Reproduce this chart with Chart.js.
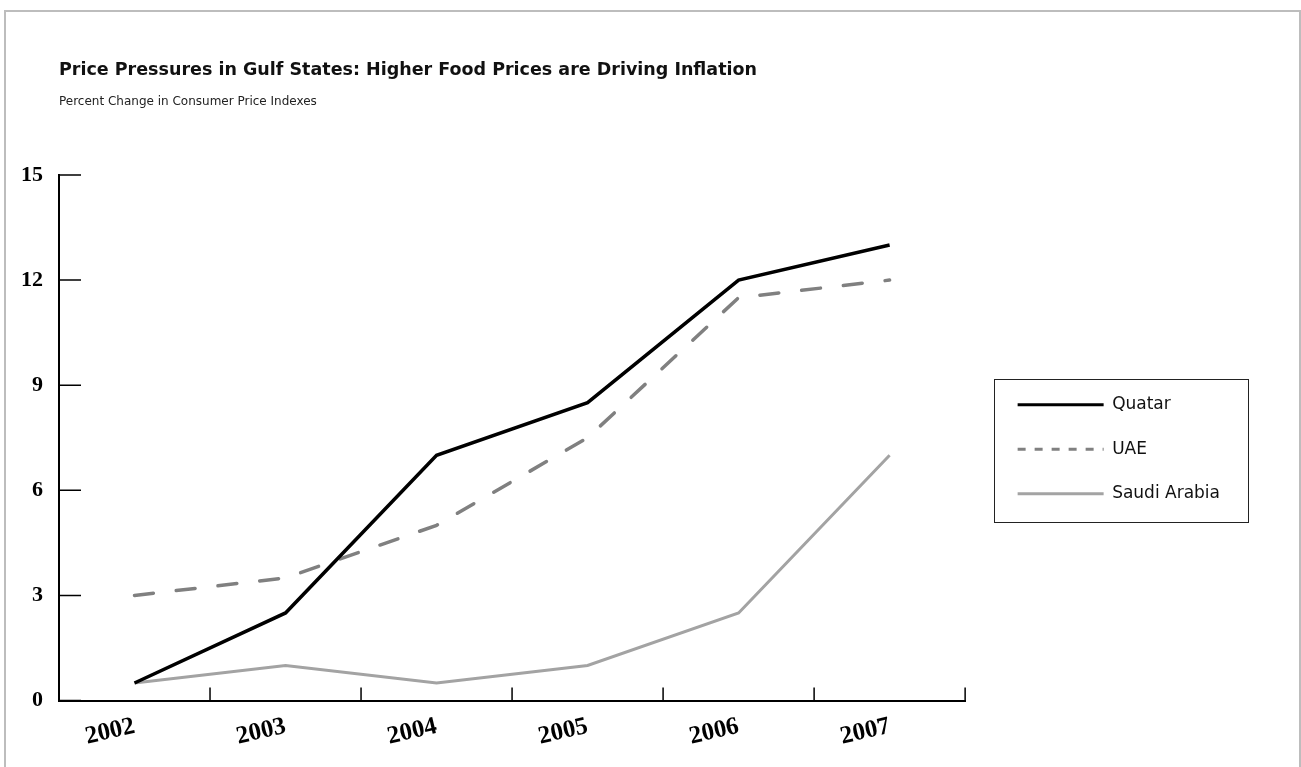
<!DOCTYPE html>
<html>
<head>
<meta charset="utf-8">
<script src="https://cdn.jsdelivr.net/npm/chart.js@4"></script>
<style>
  html, body { margin: 0; padding: 0; background: #fff; }
  #frame { position: absolute; left: 4px; top: 10px; width: 1293px; height: 800px; border: 2px solid #bdbdbd; box-sizing: content-box; }
  #wrap { position: absolute; left: 0; top: 0; width: 1301px; height: 767px; }
</style>
</head>
<body>
<div id="frame"></div>
<div id="wrap"><canvas id="c"></canvas></div>
<script>
const years = ['2002', '2003', '2004', '2005', '2006', '2007'];
const quatar = [0.5, 2.5, 7, 8.5, 12, 13];
const uae = [3, 3.5, 5, 7.5, 11.5, 12];
const saudi = [0.5, 1, 0.5, 1, 2.5, 7];
const yTickValues = [0, 3, 6, 9, 12, 15];
const titleText = 'Price Pressures in Gulf States: Higher Food Prices are Driving Inflation';
const subtitleText = 'Percent Change in Consumer Price Indexes';

const tickMarks = {
  id: 'tickMarks',
  afterDatasetsDraw(chart) {
    const { ctx, chartArea, scales: { x, y } } = chart;
    ctx.save();
    ctx.strokeStyle = '#000';
    ctx.lineWidth = 1.5;
    ctx.beginPath();
    y.ticks.forEach(t => {
      const py = y.getPixelForValue(t.value);
      ctx.moveTo(chartArea.left, py);
      ctx.lineTo(chartArea.left + 22, py);
    });
    for (let i = 1; i <= x.ticks.length; i++) {
      const px = x.getPixelForValue(i - 0.5);
      ctx.moveTo(px, chartArea.bottom);
      ctx.lineTo(px, chartArea.bottom - 13);
    }
    ctx.stroke();
    ctx.restore();
  }
};

const legendFrame = {
  id: 'legendFrame',
  afterDraw(chart) {
    const hb = chart.legend && chart.legend.legendHitBoxes;
    if (!hb || !hb.length) return;
    const first = hb[0], last = hb[hb.length - 1];
    const x0 = Math.round(first.left - 24) + 0.5;
    const y0 = Math.round(first.top + first.height / 2 - 25.5) + 0.5;
    const y1 = Math.round(last.top + last.height / 2 + 28.5) + 0.5;
    const { ctx } = chart;
    ctx.save();
    ctx.strokeStyle = '#222';
    ctx.lineWidth = 1;
    ctx.strokeRect(x0, y0, 254, y1 - y0);
    ctx.restore();
  }
};

new Chart(document.getElementById('c'), {
  type: 'line',
  data: {
    labels: years,
    datasets: [
      { label: 'Quatar', data: quatar, borderColor: '#000000', backgroundColor: '#000000', borderWidth: 3.5, borderDash: [], pointRadius: 0, tension: 0 },
      { label: 'UAE', data: uae, borderColor: '#808080', backgroundColor: '#808080', borderWidth: 3.5, borderDash: [19, 23], borderCapStyle: 'round', pointRadius: 0, tension: 0 },
      { label: 'Saudi Arabia', data: saudi, borderColor: '#a3a3a3', backgroundColor: '#a3a3a3', borderWidth: 3, borderDash: [], pointRadius: 0, tension: 0 }
    ]
  },
  options: {
    responsive: true,
    maintainAspectRatio: false,
    animation: false,
    events: [],
    layout: { padding: { left: 5, top: 60, right: 71, bottom: 4 } },
    plugins: {
      title: {
        display: true, text: titleText, align: 'start', fullSize: false, color: '#111',
        font: { family: 'DejaVu Sans', weight: 'bold', size: 17.5 },
        padding: { top: 0, bottom: 13.4 }
      },
      subtitle: {
        display: true, text: subtitleText, align: 'start', fullSize: false, color: '#222',
        font: { family: 'DejaVu Sans', size: 12 },
        padding: { top: 0, bottom: 66.2 }
      },
      legend: {
        position: 'right', fullSize: false, align: 'center',
        title: { display: true, text: '', padding: 0, font: { size: 12, lineHeight: '23px' } },
        labels: {
          usePointStyle: true, pointStyle: 'line', pointStyleWidth: 86, padding: 27.5,
          color: '#111', font: { family: 'DejaVu Sans', size: 17 },
          generateLabels(chart) {
            const items = Chart.defaults.plugins.legend.labels.generateLabels(chart);
            items.forEach((it, i) => {
              if (chart.data.datasets[i].borderDash.length) it.lineDash = [8, 9];
              it.lineWidth = 3;
            });
            return items;
          }
        }
      },
      tooltip: { enabled: false }
    },
    scales: {
      x: {
        offset: true,
        grid: { offset: true, drawOnChartArea: false, drawTicks: false },
        border: { color: '#000', width: 2 },
        ticks: { minRotation: 13, maxRotation: 13, autoSkip: false, padding: 11, color: '#000',
          font: { family: 'Liberation Serif', weight: 'bold', size: 25 } }
      },
      y: {
        min: 0, max: 15,
        afterBuildTicks(s) { s.ticks = yTickValues.map(v => ({ value: v })); },
        grid: { drawOnChartArea: false, drawTicks: false },
        border: { color: '#000', width: 2 },
        ticks: { padding: 16, color: '#000', font: { family: 'Liberation Serif', weight: 'bold', size: 22 } }
      },
      spacer: {
        type: 'linear', position: 'right', display: false,
        afterFit(s) { s.width = 25; }
      }
    }
  },
  plugins: [tickMarks, legendFrame]
});
</script>
</body>
</html>
